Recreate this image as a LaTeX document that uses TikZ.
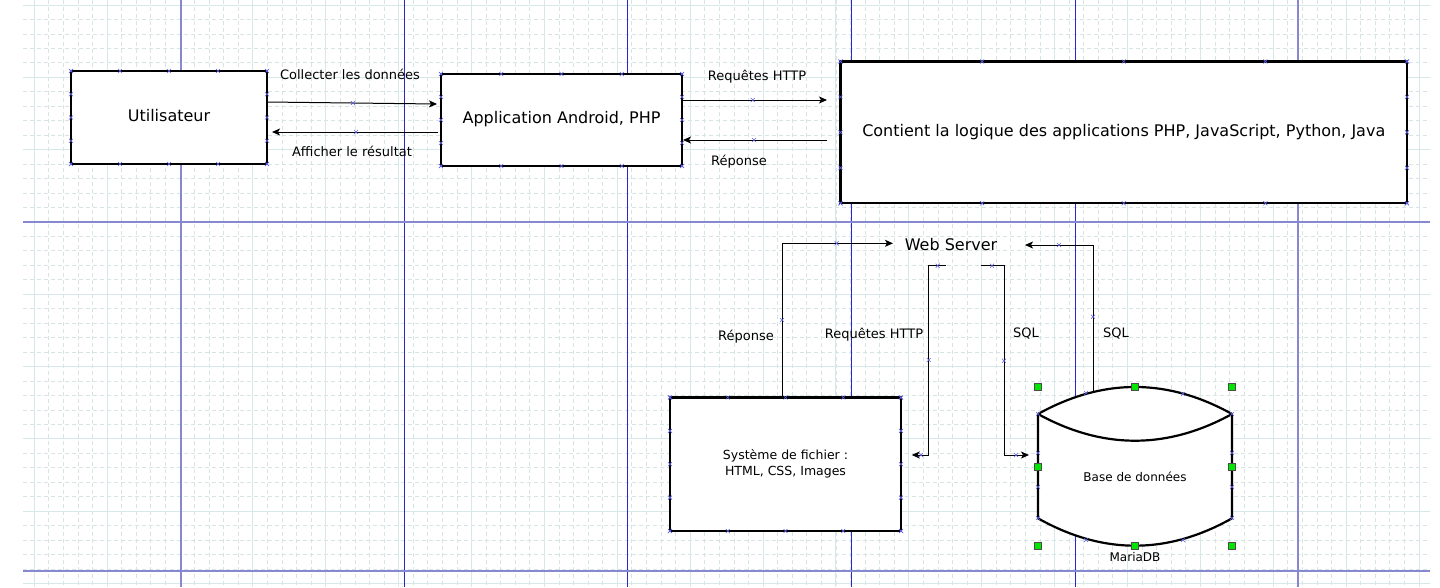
\documentclass[tikz,border=0pt]{standalone}
\usepackage{fontspec}
\setmainfont{DejaVu Sans}
\usetikzlibrary{arrows.meta,calc}
\definecolor{gridd}{RGB}{214,228,228}
\definecolor{grids}{RGB}{216,231,231}
\definecolor{pagel}{RGB}{136,136,208}
\definecolor{paged}{RGB}{40,40,200}
\definecolor{cpx}{RGB}{95,95,230}
\definecolor{hgreen}{RGB}{0,230,0}
\begin{document}
\begin{tikzpicture}[x=1pt,y=-1pt,
  box/.style={draw=black,line width=2.2pt,fill=white,inner sep=0pt,outer sep=0pt,
    font=\fontsize{16}{19}\selectfont,text height=0.73em,text depth=0pt},
  lbl/.style={inner sep=0pt,font=\fontsize{13}{15}\selectfont,text height=0.73em,text depth=0pt},
  lblsmall/.style={inner sep=0pt,font=\fontsize{12}{14}\selectfont,text height=0.73em,text depth=0pt},
  conn/.style={draw=black,line width=1pt,-{Stealth[length=8pt,width=7pt,inset=2pt]}},
  cpxs/.style={draw=cpx,line width=0.6pt},
  handle/.style={fill=hgreen,draw=black!70,line width=0.5pt},
  gdash/.style={draw=gridd,line width=0.9pt,dash pattern=on 4pt off 3pt},
  gsolid/.style={draw=grids,line width=1pt},
  pgl/.style={draw=pagel,line width=2pt},
  pgd/.style={draw=paged,line width=1pt}]
\useasboundingbox (0,0) rectangle (1440,587);
\fill[white] (0,0) rectangle (1440,587);
% grid
\foreach \k in {0,...,95} {\draw[gdash] ({34.3+14.576*\k},0) -- ({34.3+14.576*\k},587);}
\foreach \k in {0,...,40} {\draw[gdash] (23,{5.1+14.46*\k}) -- (1430,{5.1+14.46*\k});}
\foreach \k in {0,5,...,95} {\draw[gsolid] ({34.3+14.576*\k},0) -- ({34.3+14.576*\k},587);}
\foreach \k in {0,5,...,40} {\draw[gsolid] (23,{5.1+14.46*\k}) -- (1430,{5.1+14.46*\k});}
% page break lines
\draw[pgl] (181,0) -- (181,587);
\draw[pgl] (1298,0) -- (1298,587);
\foreach \xx in {404,627,851,1075} {\draw[pgd] (\xx,0) -- (\xx,587);}
\draw[pgl] (23,222) -- (1430,222);
\draw[pgl] (23,570.5) -- (1430,570.5);
% boxes
\node[box, minimum width=196pt, minimum height=93pt] (u) at (169,117.5) {Utilisateur};
\node[box, minimum width=241pt, minimum height=92pt] (app) at (561.5,120) {Application Android, PHP};
\node[box, minimum width=566.5pt, minimum height=141.8pt] (srv) at (1123.75,132.4) {Contient la logique des applications PHP, JavaScript, Python, Java};
\node[draw=black,line width=2.2pt,fill=white,inner sep=0pt,outer sep=0pt,
  minimum width=231pt, minimum height=133.5pt, align=center,
  font=\fontsize{12.5}{16}\selectfont] (fs) at (785.5,464.25) {Système de fichier :\\HTML, CSS, Images};
% database
\node[minimum width=194pt, minimum height=158.7pt, inner sep=0pt, outer sep=0pt] (db) at (1135,466.35) {};
\draw[line width=2.2pt, fill=white, line join=round]
  (1038,414) .. controls (1102.7,378) and (1167.3,378) .. (1232,414)
  -- (1232,518.3) .. controls (1167.3,554.8) and (1102.7,554.8) .. (1038,518.3) -- cycle;
\draw[line width=2.2pt] (1038,414) .. controls (1102.7,449.6) and (1167.3,449.6) .. (1232,414);
\node[lblsmall] (dbl) at (1135,478) {Base de données};
\node[lblsmall] (mdb) at (1135,558) {MariaDB};
% web server
\node[inner sep=0pt,font=\fontsize{16}{19}\selectfont,text height=0.73em,text depth=0pt] (ws) at (951,247) {Web Server};
% connectors
\draw[conn] ([yshift=15.5pt]u.east) -- ([xshift=-4pt,yshift=16pt]app.west);
\draw[conn] ([xshift=-3pt,yshift=-12pt]app.west) -- ([xshift=5pt,yshift=-14.5pt]u.east);
\draw[conn] ([yshift=20pt]app.east) -- ([xshift=-13.5pt,yshift=32.4pt]srv.west);
\draw[conn] ([xshift=-13.5pt,yshift=-7.6pt]srv.west) -- ([xshift=1pt,yshift=-20pt]app.east);
\draw[conn] ([xshift=-3.5pt]fs.north) |- ([xshift=-58pt,yshift=3.7pt]ws.center);
\draw[conn] ([xshift=-5pt,yshift=-18.7pt]ws.center) -- ++(-17.3,0) |- ([xshift=10.7pt,yshift=9.25pt]fs.east);
\draw[conn] ([xshift=29.7pt,yshift=-18.7pt]ws.center) -- ++(23.3,0) |- ([xshift=-9pt,yshift=11.35pt]db.west);
\draw[conn] ([xshift=-42pt,yshift=-3.5pt]db.north) |- ([xshift=74pt,yshift=2pt]ws.center);
% labels
\node[lbl] (l1) at (350,76) {Collecter les données};
\node[lbl] (l2) at (352,153) {Afficher le résultat};
\node[lbl] (l3) at (757,77) {Requêtes HTTP};
\node[lbl] (l4) at (739,162) {Réponse};
\node[lbl] (l5) at (746,337) {Réponse};
\node[lbl] (l6) at (874,335) {Requêtes HTTP};
\node[lbl] (l7) at (1026,334) {SQL};
\node[lbl] (l8) at (1116,334) {SQL};
% connection points of boxes
\foreach \n in {u,app,srv,fs} {
  \foreach \f in {0,0.25,0.5,0.75,1} {
    \draw[cpxs] ($(\n.north west)!\f!(\n.north east)$) +(-2,-2) -- +(2,2) +(-2,2) -- +(2,-2);
    \draw[cpxs] ($(\n.south west)!\f!(\n.south east)$) +(-2,-2) -- +(2,2) +(-2,2) -- +(2,-2);
    \draw[cpxs] ($(\n.north west)!\f!(\n.south west)$) +(-2,-2) -- +(2,2) +(-2,2) -- +(2,-2);
    \draw[cpxs] ($(\n.north east)!\f!(\n.south east)$) +(-2,-2) -- +(2,2) +(-2,2) -- +(2,-2);
  }
}
% connection points of the database and connector handles
\foreach \p in {(1086,393),(1183,394),(1038,414),(1232,414),(1038,453),(1038,487),(1232,453),(1232,487),(1038,518),(1232,518),(1086,540),(1183,540),
  (353,103),(356,132),(752.7,100),(754,140),(836.7,243.3),(782,320),(937.7,265.7),(928.7,360),(921,455),(992,265.7),(1004,360.7),(1016,455),(1059,245),(1093,316.7)} {
  \draw[cpxs] \p +(-2,-2) -- +(2,2) +(-2,2) -- +(2,-2);
}
% selection handles
\foreach \p in {(1038,387),(1135,387),(1232,387),(1038,466.7),(1232,466.7),(1038,545.7),(1135,545.7),(1232,545.7)} {
  \draw[handle] \p +(-3.5,-3.5) rectangle +(3.5,3.5);
}
\end{tikzpicture}
\end{document}
